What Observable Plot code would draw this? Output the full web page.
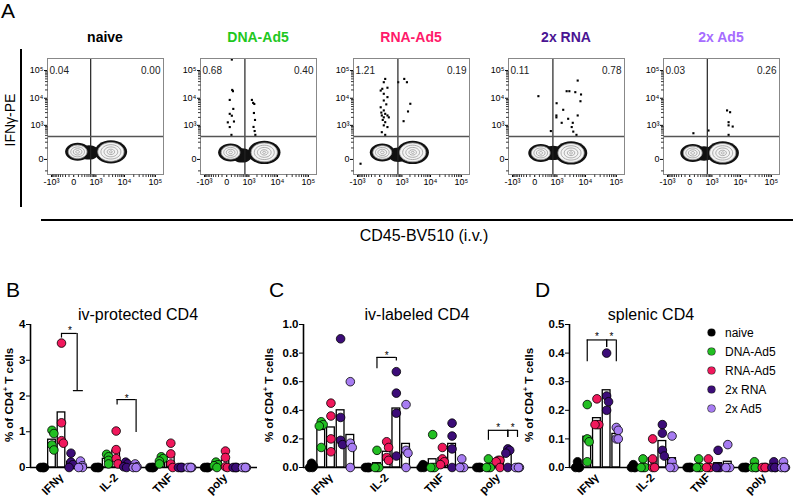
<!DOCTYPE html>
<html>
<head>
<meta charset="utf-8">
<script src="https://cdn.jsdelivr.net/npm/d3@7"></script>
<script src="https://cdn.jsdelivr.net/npm/@observablehq/plot@0.6"></script>
<style>
html,body{margin:0;padding:0;background:#fff;}
#root{position:relative;width:793px;height:500px;overflow:hidden;font-family:Arial,"Liberation Sans",Helvetica,sans-serif;color:#000;}
.abs{position:absolute;white-space:nowrap;line-height:1;}
.wrap{position:absolute;}
.wrap svg{overflow:visible;max-width:none;}
.bars [aria-label^="y-axis"] line{stroke-width:1.5px;}
sup{font-size:0.7em;line-height:0;}
</style>
</head>
<body>
<div id="root"></div>
<script>
// ================= DATA =================
const groups = ["naive", "DNA-Ad5", "RNA-Ad5", "2x RNA", "2x Ad5"];
const groupColors = ["#000000", "#22bf22", "#f0185c", "#3c0c78", "#a77cf2"];
const titleColors = ["#000000", "#1ec81e", "#ff1a6a", "#4a1493", "#a66cff"];
const cytokines = ["IFNγ", "IL-2", "TNF", "poly"];

// ---- Panel A (flow cytometry) ----
const flowUL = ["0.04", "0.68", "1.21", "0.11", "0.03"];
const flowUR = ["0.00", "0.40", "0.19", "0.78", "0.26"];
const flowXGate = [600, 680, 680, 680, 640];
const flowYGate = 360;
const flowXTicks = [-1000, 0, 1000, 10000, 100000];
const flowXTickLabels = ["-10³", "0", "10³", "10⁴", "10⁵"];
const flowYTicks = [0, 1000, 10000, 100000];
const flowYTickLabels = ["0", "10³", "10⁴", "10⁵"];
// [sample, population, CD45 value, IFNγ value]
const flowClusters = [
  [0, "neg", 80, 55], [0, "mid", 500, 50], [0, "pos", 3500, 55],
  [1, "neg", 80, 50], [1, "mid", 500, 25], [1, "pos", 3600, 50],
  [2, "neg", 50, 50], [2, "mid", 700, 30], [2, "pos", 2500, 50],
  [3, "neg", 135, 45], [3, "mid", 700, 45], [3, "pos", 3270, 45],
  [4, "neg", 60, 45], [4, "mid", 450, 40], [4, "pos", 2500, 45]
];
// IFNγ+ events [CD45, IFNγ]
const eventsNaive = [];
const eventsDNA = [[110,249000],[120,20000],[140,18000],[60,8700],[150,4100],[60,2700],[110,2300],[20,1300],[60,860],[170,1400],[100,420],
  [1300,8700],[1450,6800],[1600,6200],[1550,2900],[1700,1600],[1500,870],[1650,600],[1750,420]];
const eventsRNA = [[120,50000],[84,38000],[50,22000],[185,24000],[18,19000],[84,14500],[185,11000],[84,8300],[18,4700],[84,3600],[120,2700],
  [185,2350],[40,2350],[84,2000],[230,2000],[120,1320],[84,1000],[185,860],[40,540],[120,420],[60,1600],[150,6000],[30,3000],
  [1230,50000],[1550,38000],[2060,6300],[1700,3300],[1160,1440],[700,38000],[-750,-27]];
const events2xRNA = [[75,11900],[970,6600],[950,2350],[950,2000],[1730,3800],[2300,18000],[2860,18000],[4570,16600],[5500,43600],
  [7100,13700],[6800,7800],[2600,1770],[3750,1250],[5500,2350],[1520,1250],[3450,860],[3900,570],[5000,420],[550,600]];
const events2xAd5 = [[75,490],[720,630],[3550,3600],[4500,3100],[4000,1320],[4000,1000],[5500,900],[4000,420]];
const flowEvents = [eventsNaive, eventsDNA, eventsRNA, events2xRNA, events2xAd5];

// ---- Panel B: iv-protected CD4 (rows = groups, 4 mice each) ----
const protIFNg = [[0,0,0,0],[1.04,0.95,0.63,0.49],[3.48,1.25,0.75,0.68],[0.40,0.15,0.08,0],[0.18,0.05,0,0]];
const protIL2  = [[0,0,0,0],[0.37,0.30,0.20,0.10],[1.02,0.50,0.25,0.10],[0.15,0.10,0.02,0],[0.10,0.02,0,0]];
const protTNF  = [[0,0,0,0],[0.30,0.25,0.18,0.10],[0.68,0.38,0.10,0],[0,0,0,0],[0,0,0,0]];
const protPoly = [[0,0,0,0],[0.15,0.08,0.05,0],[0.46,0.28,0.02,0],[0,0,0,0],[0,0,0,0]];
// ---- Panel C: iv-labeled CD4 ----
const labIFNg = [[0.03,0.01,0,0],[0.32,0.30,0.29,0.14],[0.45,0.36,0.20,0.11],[0.90,0.35,0.19,0.16],[0.60,0.17,0.14,0]];
const labIL2  = [[0,0,0,0],[0.12,0,0,0],[0.18,0.14,0.07,0.05],[0.67,0.52,0.38,0.08],[0.44,0.12,0.10,0]];
const labTNF  = [[0.02,0.01,0,0],[0.23,0,0,0],[0.14,0.06,0.04,0.02],[0.31,0.22,0.13,0],[0.06,0,0,0]];
const labPoly = [[0,0,0,0],[0.06,0,0,0],[0.05,0.05,0.04,0],[0.13,0.12,0.10,0],[0,0,0,0]];
// ---- Panel D: splenic CD4 ----
const splIFNg = [[0.02,0,0,0],[0.22,0.10,0.09,0.02],[0.24,0.15,0.15,0.15],[0.40,0.25,0.23,0.20],[0.14,0.13,0.10,0.10]];
const splIL2  = [[0.01,0,0,0],[0.03,0,0,0],[0.10,0.03,0,0],[0.15,0.12,0.06,0.04],[0.11,0.02,0,0]];
const splTNF  = [[0,0,0,0],[0.03,0,0,0],[0.03,0,0,0],[0.06,0,0,0],[0.08,0,0,0]];
const splPoly = [[0,0,0,0],[0.02,0,0,0],[0,0,0,0],[0.02,0,0,0],[0.02,0,0,0]];

// significance brackets: [cytokine, fromGroup, toGroup, top, leftEnd, rightEnd]
const bracketsB = [[0, 2, 3.65, 3.75, 3.62, 2.15], [1, 2.1, 4.1, 1.90, 1.75, 0.98]];
const capsB = [[0, 3.25, 4.3, 2.15]];
const starsB = [[0, 2.9, 3.9], [1, 3.1, 2.0]];
const bracketsC = [[1, 1, 3, 0.77, 0.69, 0.745], [3, 1, 3, 0.26, 0.19, 0.21], [3, 3, 4, 0.26, 0.21, 0.21]];
const starsC = [[1, 2, 0.80], [3, 2, 0.30], [3, 3.5, 0.30]];
const bracketsD = [[0, 1, 3, 0.446, 0.37, 0.42], [0, 3, 4, 0.446, 0.42, 0.37]];
const starsD = [[0, 2, 0.468], [0, 3.5, 0.468]];

// ================= HELPERS =================
const root = document.getElementById("root");
function addText(html, x, y, css, anchor = "translate(-50%,-50%)") {
  const d = document.createElement("div");
  d.className = "abs";
  d.innerHTML = html;
  d.style.left = x + "px";
  d.style.top = y + "px";
  d.style.transform = anchor;
  Object.assign(d.style, css);
  root.appendChild(d);
  return d;
}
function addBox(x, y, w, h) {
  const d = document.createElement("div");
  d.className = "abs";
  Object.assign(d.style, {left: x + "px", top: y + "px", width: w + "px", height: h + "px", background: "#000"});
  root.appendChild(d);
}
function place(svg, x, y, w, cls) {
  const d = document.createElement("div");
  d.className = "wrap " + (cls || "");
  d.style.left = x + "px";
  d.style.top = y + "px";
  d.style.width = w + "px";
  d.appendChild(svg);
  root.appendChild(d);
}

const ellipseSym = {
  draw(ctx, size) {
    const r = Math.sqrt(size / Math.PI), a = r * 1.25, b = r * 0.9, k = 0.5523;
    ctx.moveTo(a, 0);
    ctx.bezierCurveTo(a, b * k, a * k, b, 0, b);
    ctx.bezierCurveTo(-a * k, b, -a, b * k, -a, 0);
    ctx.bezierCurveTo(-a, -b * k, -a * k, -b, 0, -b);
    ctx.bezierCurveTo(a * k, -b, a, -b * k, a, 0);
    ctx.closePath();
  }
};
const vTickSym = {draw(ctx) { ctx.moveTo(0, 0); ctx.lineTo(0, 2.5); }};
const hTickSym = {draw(ctx) { ctx.moveTo(0, 0); ctx.lineTo(-2.5, 0); }};

const fontFam = "Arial, 'Liberation Sans', Helvetica, sans-serif";

// ================= PANEL A =================
const xDom = [-1425, 182000], yDom = [-157, 272000];
const xMinor = [...d3.range(-900, 0, 100), ...d3.range(100, 1000, 100), ...d3.range(2000, 10000, 1000), ...d3.range(20000, 100000, 10000)];
const yMinor = [-100, ...d3.range(100, 1000, 100), ...d3.range(2000, 10000, 1000), ...d3.range(20000, 100000, 10000)];
const blobR = {neg: 10, mid: 8, pos: 13};
const ringR = {neg: [7.5, 5.5, 3.5, 1.5], mid: [], pos: [10.5, 8, 5.5, 3, 1.2]};

function flowPlot(i) {
  const cl = flowClusters.filter(c => c[0] === i).map(c => ({pop: c[1], x: c[2], y: c[3]}));
  const ev = flowEvents[i].map(([x, y]) => ({x, y}));
  const marks = [];
  for (const p of ["mid", "neg", "pos"]) {
    marks.push(Plot.dot(cl.filter(c => c.pop === p), {x: "x", y: "y", r: blobR[p], symbol: ellipseSym, fill: "#111"}));
  }
  for (const p of ["neg", "pos"]) {
    ringR[p].forEach((r, k) => {
      marks.push(Plot.dot(cl.filter(c => c.pop === p), {x: "x", y: "y", r, symbol: ellipseSym,
        fill: k === 0 ? "#f4f4f4" : "none", stroke: "#9a9a9a", strokeWidth: 0.8}));
    });
  }
  return Plot.plot({
    width: 161, height: 154, marginLeft: 40, marginRight: 5, marginTop: 10, marginBottom: 28,
    style: {fontFamily: fontFam, fontSize: "9px", color: "#000", background: "transparent", overflow: "visible", maxWidth: "none"},
    x: {type: "symlog", constant: 240, domain: xDom, ticks: flowXTicks,
        tickFormat: d => flowXTickLabels[flowXTicks.indexOf(d)], tickSize: 3, tickPadding: 1, label: null},
    y: {type: "symlog", constant: 63, domain: yDom, ticks: flowYTicks,
        tickFormat: d => flowYTickLabels[flowYTicks.indexOf(d)], tickSize: 3, tickPadding: 1, label: null},
    marks: [
      ...marks,
      Plot.dot(ev, {x: "x", y: "y", r: 1.2, symbol: "square", fill: "#000"}),
      Plot.ruleX([flowXGate[i]], {stroke: "#222", strokeWidth: 1.2}),
      Plot.ruleY([flowYGate], {stroke: "#555", strokeWidth: 1.5}),
      Plot.frame({stroke: "#888"}),
      Plot.dot(xMinor, {x: d => d, y: () => yDom[0], symbol: vTickSym, r: 1, stroke: "#000", fill: "none", strokeWidth: 0.8}),
      Plot.dot(yMinor, {y: d => d, x: () => xDom[0], symbol: hTickSym, r: 1, stroke: "#000", fill: "none", strokeWidth: 0.8}),
      Plot.text([flowUL[i]], {frameAnchor: "top-left", text: d => d, dx: 2, dy: 8, fontSize: 10, textAnchor: "start", fill: "#222"}),
      Plot.text([flowUR[i]], {frameAnchor: "top-right", text: d => d, dx: -3, dy: 8, fontSize: 10, textAnchor: "end", fill: "#222"})
    ]
  });
}

const frameLefts = [47, 200, 353, 508, 663];
groups.forEach((g, i) => {
  place(flowPlot(i), frameLefts[i] - 40, 48, 161);
  addText(g, frameLefts[i] + 58, 37, {fontSize: "14px", fontWeight: "bold", color: titleColors[i]});
});
addText("A", 1, 0, {fontSize: "21px"}, "none");
addBox(20, 49, 2, 158);
addText("IFNγ-PE", 10, 120, {fontSize: "14px"}, "translate(-50%,-50%) rotate(-90deg)");
addBox(41, 219, 752, 2);
addText("CD45-BV510 (i.v.)", 424, 236, {fontSize: "16px"});

// ================= PANELS B, C, D =================
const pos = (c, s) => c * 5.75 + s;
const catCentres = cytokines.map((_, c) => pos(c, 2));

function barPanel(o) {
  const pxPerY = 143 / o.ymax;
  const dots = [], bars = [];
  o.data.forEach((cat, c) => cat.forEach((vals, g) => {
    const p = pos(c, g);
    bars.push({x1: p - 0.4, x2: p + 0.4, y: d3.mean(vals)});
    const placed = [];
    [...vals].sort((a, b) => b - a).forEach(v => {
      const n = placed.filter(q => Math.abs(q - v) * pxPerY < 6).length;
      const off = [0, 0.2, -0.2, 0.1, -0.1][n] ?? 0;
      placed.push(v);
      dots.push({x: p + off, y: v, fill: groupColors[g]});
    });
  }));
  const hs = [], vs = [];
  o.brackets.forEach(([c, a, b, top, e1, e2]) => {
    hs.push({x1: pos(c, a), x2: pos(c, b), y: top});
    vs.push({x: pos(c, a), y1: e1, y2: top});
    vs.push({x: pos(c, b), y1: e2, y2: top});
  });
  (o.caps || []).forEach(([c, a, b, y]) => hs.push({x1: pos(c, a), x2: pos(c, b), y}));
  const st = o.stars.map(([c, s, y]) => ({x: pos(c, s), y}));
  return Plot.plot({
    width: o.width, height: 200, marginTop: 24, marginBottom: 33, marginLeft: o.marginLeft, marginRight: o.marginRight,
    style: {fontFamily: fontFam, fontSize: "11.5px", fontWeight: "bold", color: "#000", background: "transparent", overflow: "visible", maxWidth: "none"},
    color: {type: "identity"},
    x: {domain: o.xdom, ticks: catCentres, tickFormat: d => cytokines[catCentres.indexOf(d)], tickRotate: -45, tickSize: 0, tickPadding: 8, label: null},
    y: {domain: [0, o.ymax], ticks: o.yticks, tickFormat: o.yfmt, tickSize: 4, tickPadding: 1, label: null},
    marks: [
      Plot.rectY(bars, {x1: "x1", x2: "x2", y: "y", fill: "white", stroke: "#000", strokeWidth: 1.3}),
      Plot.ruleY([0], {strokeWidth: 1.6}),
      Plot.ruleX([o.xdom[0]], {y1: 0, y2: o.ymax, strokeWidth: 1.6}),
      Plot.ruleY(hs, {x1: "x1", x2: "x2", y: "y", strokeWidth: 1.2}),
      Plot.ruleX(vs, {x: "x", y1: "y1", y2: "y2", strokeWidth: 1.2}),
      Plot.text(st, {x: "x", y: "y", text: () => "*", fontSize: 10, fontWeight: "normal", dy: 3}),
      Plot.dot(dots, {x: "x", y: "y", r: 4.3, fill: "fill", stroke: "#000", strokeWidth: 0.8})
    ]
  });
}

const yLabel = "% of CD4<sup>+</sup> T cells";
place(barPanel({data: [protIFNg, protIL2, protTNF, protPoly], ymax: 4, yticks: [0, 1, 2, 3, 4], yfmt: d => String(d),
  width: 262, marginLeft: 30, marginRight: 5, xdom: [-1.26, 22.62], brackets: bracketsB, caps: capsB, stars: starsB}), 0, 300, 262, "bars");
place(barPanel({data: [labIFNg, labIL2, labTNF, labPoly], ymax: 1, yticks: [0, 0.2, 0.4, 0.6, 0.8, 1.0], yfmt: d => d.toFixed(1),
  width: 268, marginLeft: 43, marginRight: 5, xdom: [-0.83, 21.87], brackets: bracketsC, stars: starsC}), 260, 300, 268, "bars");
place(barPanel({data: [splIFNg, splIL2, splTNF, splPoly], ymax: 0.5, yticks: [0, 0.1, 0.2, 0.3, 0.4, 0.5], yfmt: d => d.toFixed(1),
  width: 273, marginLeft: 49, marginRight: 3, xdom: [-0.83, 21.97], brackets: bracketsD, stars: starsD}), 520, 300, 273, "bars");

addText("B", 6, 279, {fontSize: "21px"}, "none");
addText("C", 269, 279, {fontSize: "21px"}, "none");
addText("D", 535, 279, {fontSize: "21px"}, "none");
addText("iv-protected CD4", 138, 315, {fontSize: "16px"});
addText("iv-labeled CD4", 417, 315, {fontSize: "16px"});
addText("splenic CD4", 651, 315, {fontSize: "16px"});
[10, 270, 530].forEach(x => addText(yLabel, x, 395, {fontSize: "11.5px", fontWeight: "bold"}, "translate(-50%,-50%) rotate(-90deg)"));

// legend (panel D)
groups.forEach((g, i) => {
  const y = 332.5 + i * 19;
  const dot = document.createElement("div");
  dot.className = "abs";
  Object.assign(dot.style, {left: "708px", top: (y - 3.5) + "px", width: "7px", height: "7px", borderRadius: "50%",
    background: groupColors[i], boxShadow: "0 0 0 0.6px #222"});
  root.appendChild(dot);
  addText(g, 725, y, {fontSize: "12px"}, "translate(0,-50%)");
});
</script>
</body>
</html>
